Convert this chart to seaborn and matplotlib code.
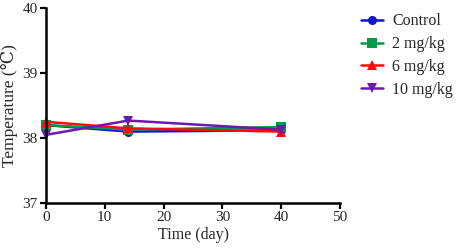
import pandas as pd
import numpy as np
import matplotlib
matplotlib.use("Agg")
import matplotlib.pyplot as plt
import seaborn as sns

days = [0, 14, 40]
groups = ["Control", "2 mg/kg", "6 mg/kg", "10 mg/kg"]
control = [38.20, 38.10, 38.12]
dose_2 = [38.20, 38.13, 38.17]
dose_6 = [38.25, 38.15, 38.10]
dose_10 = [38.05, 38.27, 38.13]

colors = ["#1010E0", "#00994C", "#FF0A0A", "#6A1AB0"]
markers = ["o", "s", "^", "v"]

df = pd.DataFrame({
    "Time": days * 4,
    "Temp": control + dose_2 + dose_6 + dose_10,
    "Group": np.repeat(groups, len(days)),
})

sns.set_style("ticks")
plt.rcParams["font.family"] = ["Liberation Serif", "DejaVu Serif"]

fig = plt.figure(figsize=(4.59, 2.52), dpi=100)
ax = fig.add_axes([0.100, 0.194, 0.641, 0.774])

sns.lineplot(data=df, x="Time", y="Temp", hue="Group", style="Group",
             hue_order=groups, style_order=groups,
             palette=colors, markers=markers, dashes=False,
             markersize=6.5, linewidth=1.8, markeredgewidth=0, ax=ax)

ax.set_xlim(0, 50)
ax.set_ylim(37, 40)
ax.set_xticks([0, 10, 20, 30, 40, 50])
ax.set_yticks([37, 38, 39, 40])
ax.set_xlabel("Time (day)", fontsize=11.5, labelpad=2)
ax.set_ylabel("Temperature (\u2103)", fontsize=12.5, labelpad=3)
ax.tick_params(labelsize=11, width=1.6, length=4, color="black", pad=2)
for s in ["left", "bottom"]:
    ax.spines[s].set_linewidth(1.8)
    ax.spines[s].set_color("black")
sns.despine(ax=ax)
for line in ax.lines:
    line.set_clip_on(False)

ax.legend(loc="upper left", bbox_to_anchor=(1.034, 1.03), frameon=False,
          fontsize=11.5, handlelength=1.35, labelspacing=0.42, handletextpad=0.6,
          borderaxespad=0.3)

fig.savefig("out.png", dpi=100)
